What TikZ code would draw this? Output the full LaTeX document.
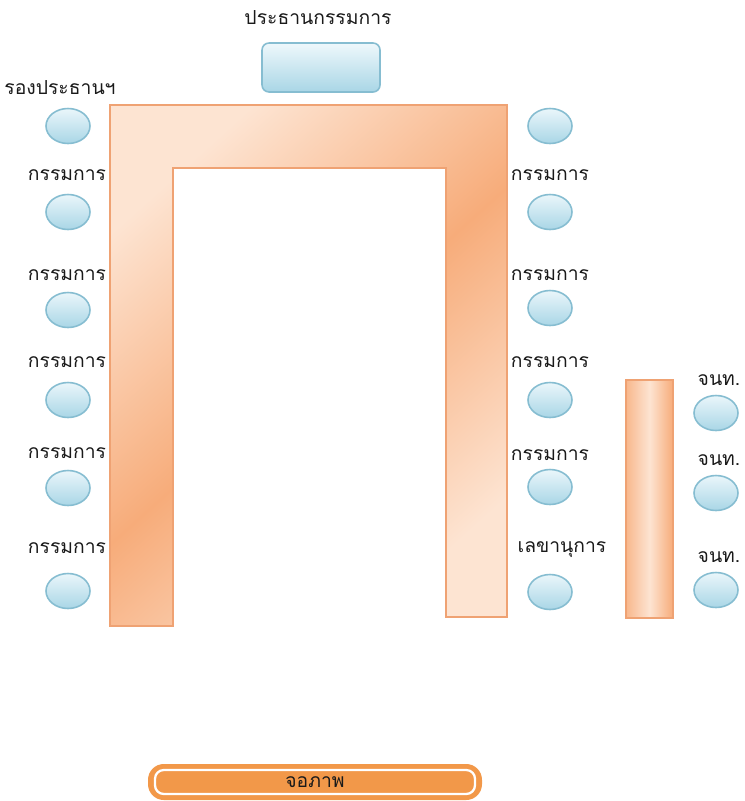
\documentclass[tikz,border=0pt]{standalone}
\usepackage{fontspec}
\newfontfamily\thaifont[Script=Thai]{Loma}
\usetikzlibrary{shapes.geometric}
\definecolor{tabledark}{HTML}{F7AC7A}
\definecolor{tablelight}{HTML}{FDE4D2}
\definecolor{tableedge}{HTML}{EFA273}
\definecolor{chairfill}{HTML}{D5EDF6}
\definecolor{chairshade}{HTML}{A9D6E6}
\definecolor{chairedge}{HTML}{86BDD1}
\definecolor{screenorange}{HTML}{F29849}
\definecolor{labeltext}{HTML}{1A1A1A}
\begin{document}
\begin{tikzpicture}[x=0.02cm, y=-0.02cm]
  \tikzset{
    chair/.style={ellipse, draw=chairedge, line width=0.9pt,
      minimum width=0.88cm, minimum height=0.7cm,
      top color=chairfill!50!white, bottom color=chairshade},
    seatlabel/.style={font=\thaifont\fontsize{11}{13}\selectfont, text=labeltext, inner sep=0pt}
  }
  \useasboundingbox (0,0) rectangle (744,801);

  % U-shaped table
  \shade[left color=tablelight, right color=tablelight, middle color=tabledark,
    shading angle=42, draw=tableedge, line width=0.6pt]
    (110,105) -- (507,105) -- (507,617) -- (446,617) -- (446,168)
    -- (173,168) -- (173,626) -- (110,626) -- cycle;

  % Side table for staff
  \shade[left color=tabledark!80!tablelight, right color=tabledark, middle color=tablelight,
    draw=tableedge, line width=0.6pt] (626,380) rectangle (673,618);

  % Chairman seat
  \shade[rounded corners=4pt, draw=chairedge, line width=0.9pt,
    top color=chairfill!40!white, bottom color=chairshade] (262,43) rectangle (380,92);
  \node[seatlabel] (chairman) at (318,18) {ประธานกรรมการ};

  % Left chairs
  \foreach \y [count=\i] in {126,212,310,400,488,591}
    \node[chair] (chairL\i) at (68,\y) {};
  \node[seatlabel] (viceL) at (60,88) {รองประธานฯ};
  \foreach \y [count=\i] in {175,275,362,453,548}
    \node[seatlabel] (memberL\i) at (67,\y) {กรรมการ};

  % Right chairs
  \foreach \y [count=\i] in {126,212,308,400,487,592}
    \node[chair] (chairR\i) at (550,\y) {};
  \foreach \y [count=\i] in {175,275,362,455}
    \node[seatlabel] (memberR\i) at (550,\y) {กรรมการ};
  \node[seatlabel] (secretary) at (562,550) {เลขานุการ};

  % Staff chairs
  \foreach \y [count=\i] in {413,493,590}
    \node[chair] (staff\i) at (716,\y) {};
  \foreach \y [count=\i] in {380,460,557}
    \node[seatlabel] (staffL\i) at (719,\y) {จนท.};

  % Screen
  \fill[screenorange, rounded corners=9pt] (148,764) rectangle (482,800);
  \draw[white, line width=1.3pt, rounded corners=5pt] (155,770) rectangle (475,794);
  \node[seatlabel] (screen) at (315,782) {จอภาพ};
\end{tikzpicture}
\end{document}
